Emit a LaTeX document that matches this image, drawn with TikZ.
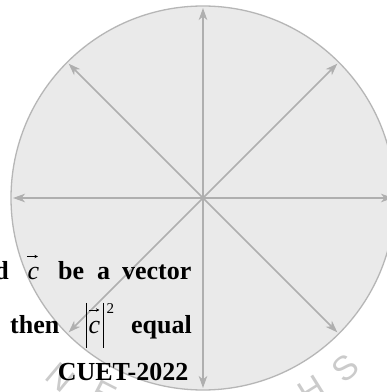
\documentclass[tikz,border=0pt]{standalone}
\usepackage{fontspec}
\setmainfont{Liberation Serif}
\newfontfamily\wmfont{Liberation Sans}
\usetikzlibrary{arrows.meta,calc}
\definecolor{diskfill}{HTML}{EAEAEA}
\definecolor{diskline}{HTML}{B6B6B6}
\definecolor{rayline}{HTML}{AFAFAF}
\definecolor{wmgray}{HTML}{CBCBCB}
\tikzset{
  ray/.style={draw=rayline, line width=1.6pt, -{Stealth[length=12pt,width=8.5pt,inset=3.5pt]}},
  word/.style={inner sep=0pt, font=\fontsize{26}{30}\selectfont\bfseries, text=black},
  ivar/.style={inner sep=0pt, font=\fontsize{26}{30}\selectfont\itshape, text=black},
  sup/.style={inner sep=0pt, font=\fontsize{15}{18}\selectfont, text=black},
  vecarrow/.style={draw=black, line width=0.7pt, -{Stealth[length=3.6pt,width=3.4pt]}},
  absbar/.style={draw=black, line width=0.9pt},
  wm/.style={inner sep=0pt, font=\fontsize{34}{40}\selectfont\wmfont, text=wmgray}
}
\begin{document}
\begin{tikzpicture}[x=1pt,y=1pt]
\useasboundingbox (0,0) rectangle (387,392);
\clip (0,0) rectangle (387,392);
\fill[white] (0,0) rectangle (387,392);
% watermark
\node[wm, rotate=-40] (wmN) at (60,15) {N};
\node[wm, rotate=-27] (wmE) at (104,-2) {E};
\node[wm, rotate=32] (wmH) at (312,2) {H};
\node[wm, rotate=41] (wmS) at (345,24) {S};
% disk
\coordinate (O) at (203,194);
\filldraw[fill=diskfill, draw=diskline, line width=1.3pt] (O) circle[radius=192];
\foreach \a in {0,45,...,315}{
  \coordinate (tip\a) at ($(O)+(\a:190)$);
}
\foreach \a in {0,45,...,315}{
  \draw[ray] (O) -- (tip\a);
}
% line 1
\node[word, anchor=base east] (w1d) at (9,113) {d};
\node[ivar, anchor=base west] (w1c) at (27.5,113) {c};
\coordinate (v1a) at (27,135.5);
\coordinate (v1b) at (38,135.5);
\draw[vecarrow] (v1a) -- (v1b);
\node[word, anchor=base west] (w1be) at (58,113) {be};
\node[word, anchor=base west] (w1a) at (97,113) {a};
\node[word, anchor=base east] (w1v) at (191.5,113) {vector};
% line 2
\node[word, anchor=base west] (w2then) at (10,59) {then};
\coordinate (b1t) at (86,89); \coordinate (b1b) at (86,44);
\coordinate (b2t) at (103,89); \coordinate (b2b) at (103,44);
\draw[absbar] (b1t) -- (b1b);
\draw[absbar] (b2t) -- (b2b);
\node[ivar, anchor=base west] (w2c) at (88.5,59) {c};
\coordinate (v2a) at (89,82);
\coordinate (v2b) at (99.5,82);
\draw[vecarrow] (v2a) -- (v2b);
\node[sup, anchor=base west] (w2sq) at (106.5,78) {2};
\node[word, anchor=base east] (w2eq) at (192,59) {equal};
% line 3
\node[word, anchor=base east] (w3) at (188.5,12) {CUET-2022};
\end{tikzpicture}
\end{document}
